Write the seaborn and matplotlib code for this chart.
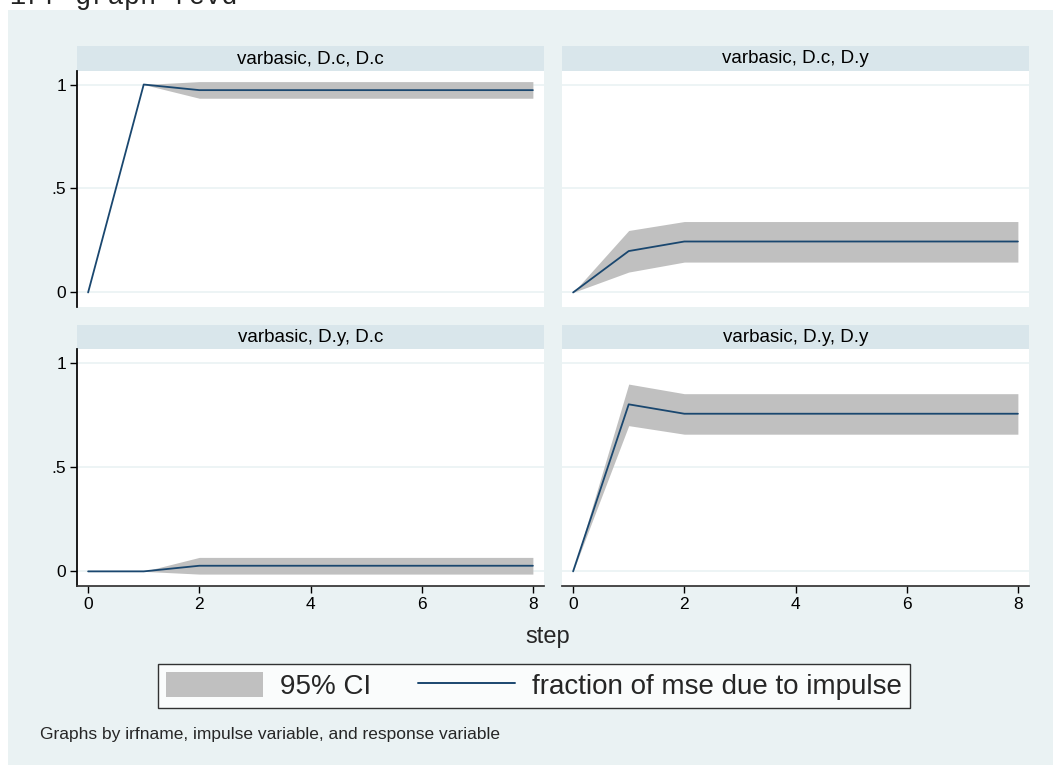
import matplotlib
matplotlib.use("Agg")
import numpy as np
import pandas as pd
import matplotlib.pyplot as plt
import seaborn as sns
from matplotlib.patches import Patch, Rectangle
from matplotlib.lines import Line2D

# forecast-error variance decomposition
steps = [0, 1, 2, 3, 4, 5, 6, 7, 8]

dc_dc_fevd = [0.0, 1.0, 0.973, 0.973, 0.973, 0.973, 0.973, 0.973, 0.973]
dc_dc_lo = [0.0, 1.0, 0.934, 0.934, 0.934, 0.934, 0.934, 0.934, 0.934]
dc_dc_hi = [0.0, 1.0, 1.014, 1.014, 1.014, 1.014, 1.014, 1.014, 1.014]

dc_dy_fevd = [0.0, 0.199, 0.245, 0.245, 0.245, 0.245, 0.245, 0.245, 0.245]
dc_dy_lo = [0.0, 0.098, 0.146, 0.146, 0.146, 0.146, 0.146, 0.146, 0.146]
dc_dy_hi = [0.0, 0.298, 0.341, 0.341, 0.341, 0.341, 0.341, 0.341, 0.341]

dy_dc_fevd = [0.0, 0.0, 0.027, 0.027, 0.027, 0.027, 0.027, 0.027, 0.027]
dy_dc_lo = [0.0, 0.0, -0.013, -0.013, -0.013, -0.013, -0.013, -0.013, -0.013]
dy_dc_hi = [0.0, 0.0, 0.067, 0.067, 0.067, 0.067, 0.067, 0.067, 0.067]

dy_dy_fevd = [0.0, 0.80, 0.755, 0.755, 0.755, 0.755, 0.755, 0.755, 0.755]
dy_dy_lo = [0.0, 0.698, 0.657, 0.657, 0.657, 0.657, 0.657, 0.657, 0.657]
dy_dy_hi = [0.0, 0.897, 0.851, 0.851, 0.851, 0.851, 0.851, 0.851, 0.851]

panel_titles = ["varbasic, D.c, D.c", "varbasic, D.c, D.y",
                "varbasic, D.y, D.c", "varbasic, D.y, D.y"]
y_ticks = [0, 0.5, 1]
y_ticklabels = ["0", ".5", "1"]
x_ticks = [0, 2, 4, 6, 8]

rows = []
for title, f, lo, hi in zip(panel_titles,
                            [dc_dc_fevd, dc_dy_fevd, dy_dc_fevd, dy_dy_fevd],
                            [dc_dc_lo, dc_dy_lo, dy_dc_lo, dy_dy_lo],
                            [dc_dc_hi, dc_dy_hi, dy_dc_hi, dy_dy_hi]):
    for s, a, b, c in zip(steps, f, lo, hi):
        rows.append({"panel": title, "step": s, "fevd": a, "lo": b, "hi": c})
df = pd.DataFrame(rows)

sns.set_theme(style="white")
plt.rcParams["font.family"] = ["Liberation Sans", "DejaVu Sans"]

BG = "#eaf2f3"
STRIP = "#d9e6eb"
LINE = "#1a476f"
CI = "#c0c0c0"
W, H = 1053, 770

fig = plt.figure(figsize=(W / 100, H / 100), dpi=100, facecolor="white")
fig.patches.append(Rectangle((8 / W, 1 - 765 / H), (W - 8) / W, (765 - 10) / H,
                             transform=fig.transFigure, facecolor=BG,
                             edgecolor="none", zorder=-10))
# command echo above the graph, cut off at the top edge as in the screenshot
fig.text(10 / W, 1 - 4 / H, "irf graph fevd", family="Liberation Mono",
         fontsize=19.5, va="baseline", ha="left", color="#222222")


def box(x0, y0, x1, y1):
    return [x0 / W, 1 - y1 / H, (x1 - x0) / W, (y1 - y0) / H]


cols = [(77, 544), (562, 1029)]
rws = [(46, 71, 307), (325, 349, 586)]

for i, title in enumerate(panel_titles):
    r, c = divmod(i, 2)
    x0, x1 = cols[c]
    s0, a0, a1 = rws[r]
    st = fig.add_axes(box(x0, s0, x1, a0))
    st.set_zorder(2)
    st.set_facecolor(STRIP)
    st.set_xticks([]); st.set_yticks([])
    for sp in st.spines.values():
        sp.set_visible(False)
    st.text(0.5, 0.5, title, ha="center", va="center", fontsize=13.5,
            transform=st.transAxes, color="black")

    ax = fig.add_axes(box(x0, a0, x1, a1))
    ax.set_zorder(2)
    ax.set_facecolor("white")
    sub = df[df["panel"] == title]
    ax.fill_between(sub["step"], sub["lo"], sub["hi"], color=CI,
                    linewidth=0, zorder=2)
    sns.lineplot(data=sub, x="step", y="fevd", ax=ax, color=LINE,
                 linewidth=1.3, zorder=3)
    ax.set_xlim(-0.2, 8.2)
    ax.set_ylim(-0.07, 1.065)
    ax.set_yticks(y_ticks)
    ax.set_xticks(x_ticks)
    for yv in y_ticks:
        ax.axhline(yv, color=BG, linewidth=1.2, zorder=1)
    ax.set_xlabel("")
    ax.set_ylabel("")
    for sp in ["top", "right"]:
        ax.spines[sp].set_visible(False)
    ax.spines["left"].set_color("black")
    ax.spines["bottom"].set_color("#333333")
    ax.tick_params(axis="both", length=5, width=1, colors="black",
                   labelsize=12.5, direction="out")
    if c == 0:
        ax.set_yticklabels(y_ticklabels)
        ax.tick_params(axis="y", left=True, pad=3)
    else:
        ax.spines["left"].set_visible(False)
        ax.tick_params(axis="y", left=False, labelleft=False)
    if r == 0:
        ax.spines["bottom"].set_visible(False)
        ax.tick_params(axis="x", bottom=False, labelbottom=False)
    else:
        ax.set_xticklabels([str(v) for v in x_ticks])
        ax.tick_params(axis="x", bottom=True, pad=3)

fig.text(548 / W, 1 - 637 / H, "step", ha="center", va="center", fontsize=17)

handles = [Patch(facecolor=CI, edgecolor="none"),
           Line2D([], [], color=LINE, linewidth=1.4)]
leg = fig.legend(handles, ["95% CI", "fraction of mse due to impulse"],
                 loc="center", bbox_to_anchor=(534 / W, 1 - 686 / H), ncol=2,
                 fontsize=20, frameon=True, fancybox=False, edgecolor="black",
                 handlelength=3.5, handleheight=1.0, handletextpad=0.6,
                 columnspacing=1.7, borderpad=0.3, borderaxespad=0)
leg.get_frame().set_linewidth(1.0)
leg.get_frame().set_facecolor("white")

fig.text(40 / W, 1 - 735 / H,
         "Graphs by irfname, impulse variable, and response variable",
         ha="left", va="center", fontsize=12.5)

fig.savefig("out.png", dpi=100, facecolor="white")
